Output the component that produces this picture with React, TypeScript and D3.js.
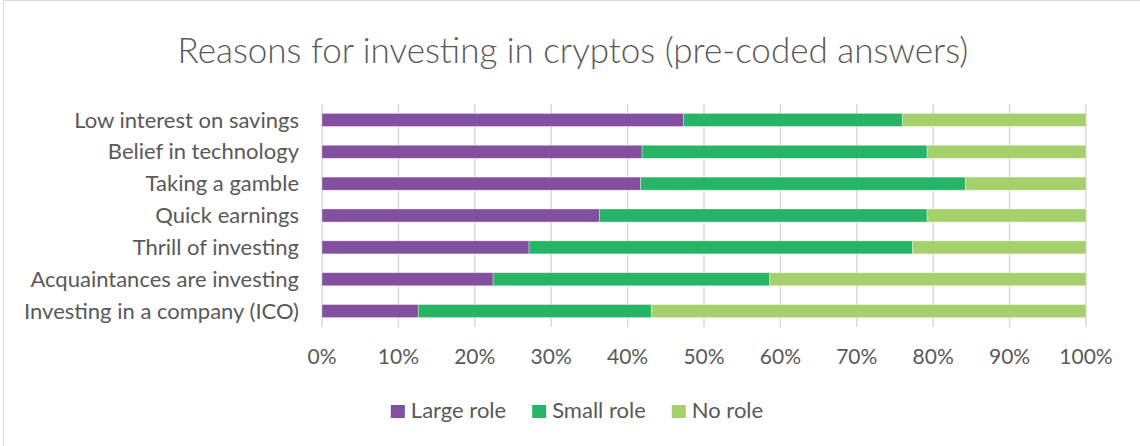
import React, { useEffect, useRef } from "react";
import * as d3 from "d3";

const categories = [
  "Low interest on savings",
  "Belief in technology",
  "Taking a gamble",
  "Quick earnings",
  "Thrill of investing",
  "Acquaintances are investing",
  "Investing in a company (ICO)",
];
const seriesNames = ["Large role", "Small role", "No role"];
const largeRole = [47.3, 41.9, 41.7, 36.3, 27.1, 22.4, 12.6];
const smallRole = [28.7, 37.3, 42.5, 42.9, 50.2, 36.2, 30.5];
const noRole = [24.0, 20.8, 15.8, 20.8, 22.7, 41.4, 56.9];
const tickValues = [0, 10, 20, 30, 40, 50, 60, 70, 80, 90, 100];
const colors = ["#834FA0", "#27B467", "#A5D06B"];
const title = "Reasons for investing in cryptos (pre-coded answers)";

const W = 1140;
const H = 446;
const FONT = "Lato, 'Open Sans', sans-serif";
const TEXT = "#595959";

export default function App() {
  const ref = useRef<SVGSVGElement>(null);
  useEffect(() => {
    const svg = d3.select(ref.current);
    svg.selectAll("*").remove();

    // border
    svg.append("rect").attr("x", 3.5).attr("y", 0.5).attr("width", W + 10).attr("height", H + 10)
      .attr("fill", "#fff").attr("stroke", "#d9d9d9").attr("stroke-width", 1);

    svg.append("text").attr("x", 573).attr("y", 63).attr("text-anchor", "middle")
      .attr("font-family", FONT).attr("font-size", 35).attr("font-weight", 300).attr("fill", TEXT)
      .text(title);

    const x = d3.scaleLinear().domain([0, 100]).range([322, 1086]);
    const y = d3.scaleBand().domain(categories).range([104, 327]).paddingInner(0.59).paddingOuter(0.295);

    const g = svg.append("g");
    g.selectAll("line.grid").data(tickValues).enter().append("line")
      .attr("x1", (d) => x(d)).attr("x2", (d) => x(d)).attr("y1", 104).attr("y2", 327)
      .attr("stroke", "#d9d9d9").attr("stroke-width", 1.5);

    const rows = categories.map((c, i) => ({ c, vals: [largeRole[i], smallRole[i], noRole[i]] }));
    const stack = d3.stack<any>().keys([0, 1, 2] as any).value((d: any, k: any) => d.vals[k]);
    const stacked = stack(rows as any);
    stacked.forEach((layer, si) => {
      g.append("g").selectAll("rect").data(layer).enter().append("rect")
        .attr("x", (d) => x(d[0]))
        .attr("width", (d) => x(d[1]) - x(d[0]))
        .attr("y", (d: any) => y(d.data.c)!)
        .attr("height", y.bandwidth())
        .attr("fill", colors[si])
        .attr("stroke", "#ffffff").attr("stroke-opacity", 0.45).attr("stroke-width", 0.75);
    });

    // category labels
    g.selectAll("text.cat").data(categories).enter().append("text")
      .attr("x", 299).attr("y", (d) => y(d)! + y.bandwidth() / 2).attr("dy", "0.35em")
      .attr("text-anchor", "end").attr("font-family", FONT).attr("font-size", 22).attr("fill", TEXT)
      .text((d) => d);

    // x ticks
    g.selectAll("text.tick").data(tickValues).enter().append("text")
      .attr("x", (d) => x(d)).attr("y", 364).attr("text-anchor", "middle")
      .attr("font-family", FONT).attr("font-size", 21).attr("fill", TEXT)
      .text((d) => d3.format(".0%")(d / 100));

    // legend
    const lg = svg.append("g");
    const items = lg.selectAll("g").data(seriesNames).enter().append("g");
    items.append("rect").attr("width", 14).attr("height", 13).attr("y", 405)
      .attr("fill", (_d, i) => colors[i]);
    items.append("text").attr("x", 20).attr("y", 418).attr("font-family", FONT).attr("font-size", 22)
      .attr("fill", TEXT).text((d) => d);
    let cx = 0;
    const widths: number[] = [];
    items.each(function () {
      const t = d3.select(this).select("text").node() as SVGTextElement;
      widths.push(20 + t.getComputedTextLength());
    });
    const gap = 26;
    const total = d3.sum(widths) + gap * (widths.length - 1);
    let start = 577 - total / 2;
    items.attr("transform", (_d, i) => {
      const tx = start + cx;
      cx += widths[i] + gap;
      return `translate(${tx},0)`;
    });
  }, []);
  return (
    <svg ref={ref} width={W} height={H} style={{ position: "absolute", left: 0, top: 0, background: "#fff" }} />
  );
}
